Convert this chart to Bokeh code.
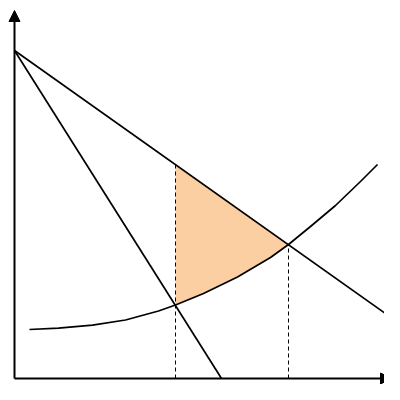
from bokeh.plotting import figure
from bokeh.models import Arrow, NormalHead
from bokeh.embed import file_html
from bokeh.resources import INLINE
import numpy as np

# two straight lines (end points)
steep_x = [0, 207]
steep_y = [328, 0]
shallow_x = [0, 371]
shallow_y = [328, 65]

# rising curve, points
curve_x = [15, 44, 78, 111, 144, 161, 189, 223, 256, 274, 296, 321, 346, 363]
curve_y = [49, 50.3, 53.3, 58.5, 67.5, 73.5, 85, 101.5, 121, 134, 152, 173, 197, 214]

# dashed guides at the two intersections
guide_x = [161, 274]

# axis ends
x_axis_end = 377
y_axis_end = 368

p = figure(width=384, height=384, x_range=(-14, 370), y_range=(-6, 378),
           output_backend="svg", toolbar_location=None,
           min_border=0, min_border_left=0, min_border_right=0,
           min_border_top=0, min_border_bottom=0)
p.axis.visible = False
p.grid.visible = False
p.outline_line_color = None
p.background_fill_color = "white"

# shaded region between shallow line and curve
def on_shallow(x):
    return np.interp(x, shallow_x, shallow_y)

cx = np.array(curve_x)
cy = np.array(curve_y)
sel = (cx >= guide_x[0]) & (cx <= guide_x[1])
patch_x = [guide_x[0]] + list(cx[sel]) + [guide_x[0]]
patch_y = [on_shallow(guide_x[0])] + list(cy[sel]) + [on_shallow(guide_x[0])]
p.patch(patch_x, patch_y, fill_color="#fccfa3", line_color=None)

# dashed verticals
guide_top = [on_shallow(guide_x[0]), np.interp(guide_x[1], curve_x, curve_y)]
p.segment(x0=guide_x, y0=[0, 0], x1=guide_x, y1=guide_top,
          line_color="black", line_width=1, line_dash="4 3")

p.line(steep_x, steep_y, line_color="black", line_width=1.7)
p.line(shallow_x, shallow_y, line_color="black", line_width=1.7)
p.line(curve_x, curve_y, line_color="black", line_width=1.7, line_join="round")

# axes with arrow heads
p.add_layout(Arrow(end=NormalHead(size=11, fill_color="black", line_color="black"),
                   x_start=0, y_start=0, x_end=x_axis_end, y_end=0,
                   line_width=2, line_color="black"))
p.add_layout(Arrow(end=NormalHead(size=11, fill_color="black", line_color="black"),
                   x_start=0, y_start=0, x_end=0, y_end=y_axis_end,
                   line_width=2, line_color="black"))

open("out.html", "w").write(file_html(p, INLINE))
